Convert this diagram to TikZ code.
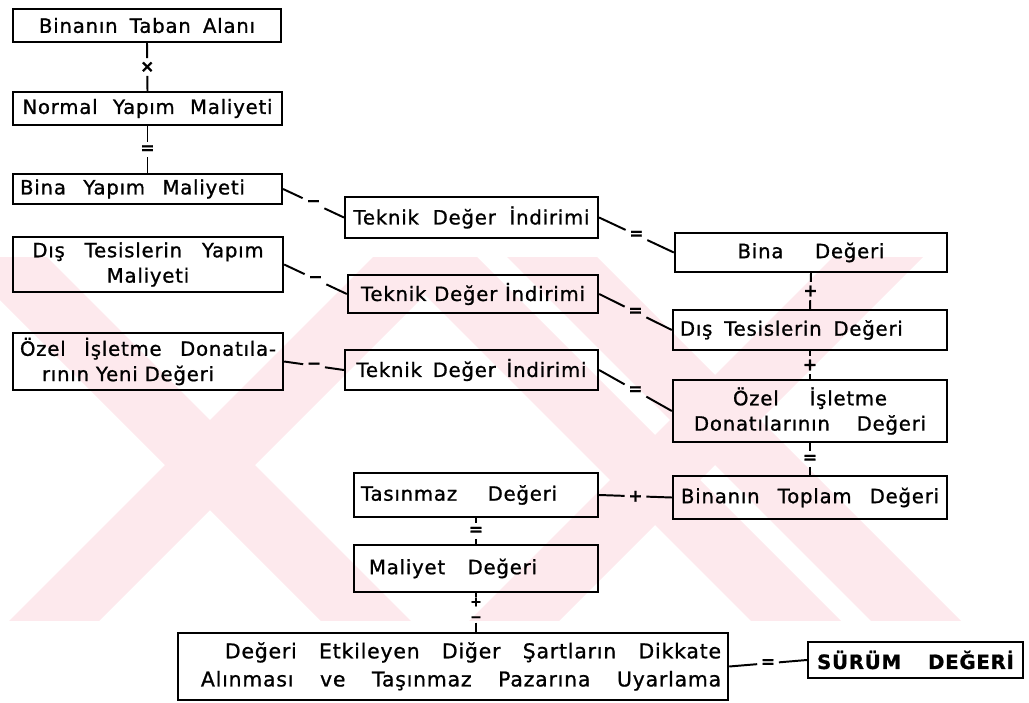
\documentclass[tikz,border=0pt]{standalone}
\usepackage{fontspec}
\setmainfont{DejaVu Sans}[LetterSpace=4,FakeBold=1]
\usetikzlibrary{calc}
\definecolor{yokpink}{RGB}{253,233,237}
\newcommand{\spread}[2]{\makebox[#1][s]{#2}}
\tikzset{
  box/.style={draw,line width=1.6pt,inner xsep=5pt,inner ysep=2pt,font=\fontsize{14}{18}\selectfont},
  op/.style={inner sep=2.5pt,font=\fontsize{12}{12}\selectfont\bfseries},
  link/.style={line width=1.4pt}
}
\begin{document}
\begin{tikzpicture}[x=0.025cm,y=-0.025cm]
\useasboundingbox(0,0)rectangle(1029,702);
%watermark
\begin{scope}
\clip(0,257)rectangle(966,620);
\fill[yokpink](-100,200)--(-10,200)--(470,680)--(380,680)--cycle;
\fill[yokpink](430,200)--(520,200)--(40,680)--(-50,680)--cycle;
\fill[yokpink](330,200)--(420,200)--(900,680)--(810,680)--cycle;
\fill[yokpink](890,200)--(980,200)--(500,680)--(410,680)--cycle;
\fill[yokpink](450,200)--(540,200)--(1020,680)--(930,680)--cycle;
\end{scope}
%left column
\node[box,text width=6.35cm,minimum height=0.825cm,align=center](tab)at(147,25.5){\spread{5.4cm}{Binanın\hfill Taban\hfill Alanı}};
\node[box,text width=6.37cm,minimum height=0.825cm,align=center](nor)at(147.5,108.5){\spread{6.25cm}{Normal\hfill Yapım\hfill Maliyeti}};
\node[box,text width=6.37cm,minimum height=0.75cm,align=left](byp)at(147.5,189){\spread{5.62cm}{Bina\hfill Yapım\hfill Maliyeti}};
\node[box,text width=6.40cm,minimum height=1.375cm,align=center](dty)at(148,264.5){\spread{5.78cm}{Dış\hfill Tesislerin\hfill Yapım}\\Maliyeti};
\node[box,text width=6.40cm,minimum height=1.425cm,align=left](ozy)at(148,361.5){\spread{6.40cm}{Özel\hfill İşletme\hfill Donatıla-}\\\hspace*{0.55cm}\spread{4.3cm}{rının\hfill Yeni\hfill Değeri}};
%teknik deger indirimi
\node[box,text width=5.97cm,minimum height=1.025cm,align=center](tk1)at(471.5,217.5){\spread{5.9cm}{Teknik\hfill Değer\hfill İndirimi}};
\node[box,text width=5.90cm,minimum height=0.95cm,align=center](tk2)at(473,294){\spread{5.6cm}{Teknik\hfill Değer\hfill İndirimi}};
\node[box,text width=5.97cm,minimum height=1.0cm,align=center](tk3)at(471.5,370){\spread{5.75cm}{Teknik\hfill Değer\hfill İndirimi}};
%right column
\node[box,text width=6.45cm,minimum height=0.975cm,align=center](bd)at(811,252.5){\spread{3.67cm}{Bina\hfill Değeri}};
\node[box,text width=6.50cm,minimum height=1.0cm,align=left](dtd)at(810,330){\spread{5.57cm}{Dış\hfill Tesislerin\hfill Değeri}};
\node[box,text width=6.50cm,minimum height=1.55cm,align=center](ozd)at(810,411){\spread{3.85cm}{Özel\hfill İşletme}\\\spread{5.8cm}{Donatılarının\hfill Değeri}};
\node[box,text width=6.50cm,minimum height=1.075cm,align=center](btd)at(810,497.5){\spread{6.45cm}{Binanın\hfill Toplam\hfill Değeri}};
%middle column
\node[box,text width=5.75cm,minimum height=1.1cm,align=left](tas)at(476,495){\spread{4.9cm}{Tasınmaz\hfill Değeri}};
\node[box,text width=5.75cm,minimum height=1.175cm,align=left](mal)at(476,568.5){\hspace*{0.2cm}\spread{4.2cm}{Maliyet\hfill Değeri}};
%bottom row
\node[box,text width=13.40cm,minimum height=1.675cm,align=right,font=\fontsize{14.5}{20}\selectfont](dig)at(453,666.5){\spread{12.4cm}{Değeri\hfill Etkileyen\hfill Diğer\hfill Şartların\hfill Dikkate}\\\spread{13.0cm}{Alınması\hfill ve\hfill Taşınmaz\hfill Pazarına\hfill Uyarlama}};
\node[box,text width=5.02cm,minimum height=0.9cm,align=center,font=\fontsize{14}{16}\selectfont\bfseries](sur)at(915.5,660){\spread{4.92cm}{SÜRÜM\hfill DEĞERİ}};
%operators
\path(tab.south)--node[op](o1){×}(nor.north);
\path(nor.south)--node[op](o2){=}(byp.north);
\path(byp.east)--node[op](o3){−}(tk1.west);
\path(dty.east)--node[op](o4){−}(tk2.west);
\path(ozy.east)--node[op](o5){−}(tk3.west);
\path(tk1.east)--node[op](o6){=}(bd.west);
\path(tk2.east)--node[op](o7){=}(dtd.west);
\path(tk3.east)--node[op](o8){=}(ozd.west);
\path(bd.south)--node[op](o9){+}(dtd.north);
\path(dtd.south)--node[op](o10){+}(ozd.north);
\path(ozd.south)--node[op](o11){=}(btd.north);
\path(tas.east)--node[op](o12){+}(btd.west);
\path(tas.south)--node[op](o13){=}(mal.north);
\node[op,inner sep=0.5pt,font=\fontsize{10}{10}\selectfont\bfseries](o14)at(476,602){+};
\node[op,inner sep=0.5pt,font=\fontsize{10}{10}\selectfont\bfseries](o15)at(476,619){−};
\path(dig.east)--node[op](o16){=}(sur.west);
%connectors
\draw[link](tab.south)--(o1);\draw[link](o1)--(nor.north);
\draw[link](nor.south)--(o2);\draw[link](o2)--(byp.north);
\draw[link](byp.east)--(o3);\draw[link](o3)--(tk1.west);
\draw[link](dty.east)--(o4);\draw[link](o4)--(tk2.west);
\draw[link](ozy.east)--(o5);\draw[link](o5)--(tk3.west);
\draw[link](tk1.east)--(o6);\draw[link](o6)--(bd.west);
\draw[link](tk2.east)--(o7);\draw[link](o7)--(dtd.west);
\draw[link](tk3.east)--(o8);\draw[link](o8)--(ozd.west);
\draw[link](bd.south)--(o9);\draw[link](o9)--(dtd.north);
\draw[link](dtd.south)--(o10);\draw[link](o10)--(ozd.north);
\draw[link](ozd.south)--(o11);\draw[link](o11)--(btd.north);
\draw[link](tas.east)--(o12);\draw[link](o12)--(btd.west);
\draw[link](tas.south)--(o13);\draw[link](o13)--(mal.north);
\draw[link](mal.south)--(o14);\draw[link](o15)--(o15|-dig.north);
\draw[link](dig.east)--(o16);\draw[link](o16)--(sur.west);
\end{tikzpicture}
\end{document}
